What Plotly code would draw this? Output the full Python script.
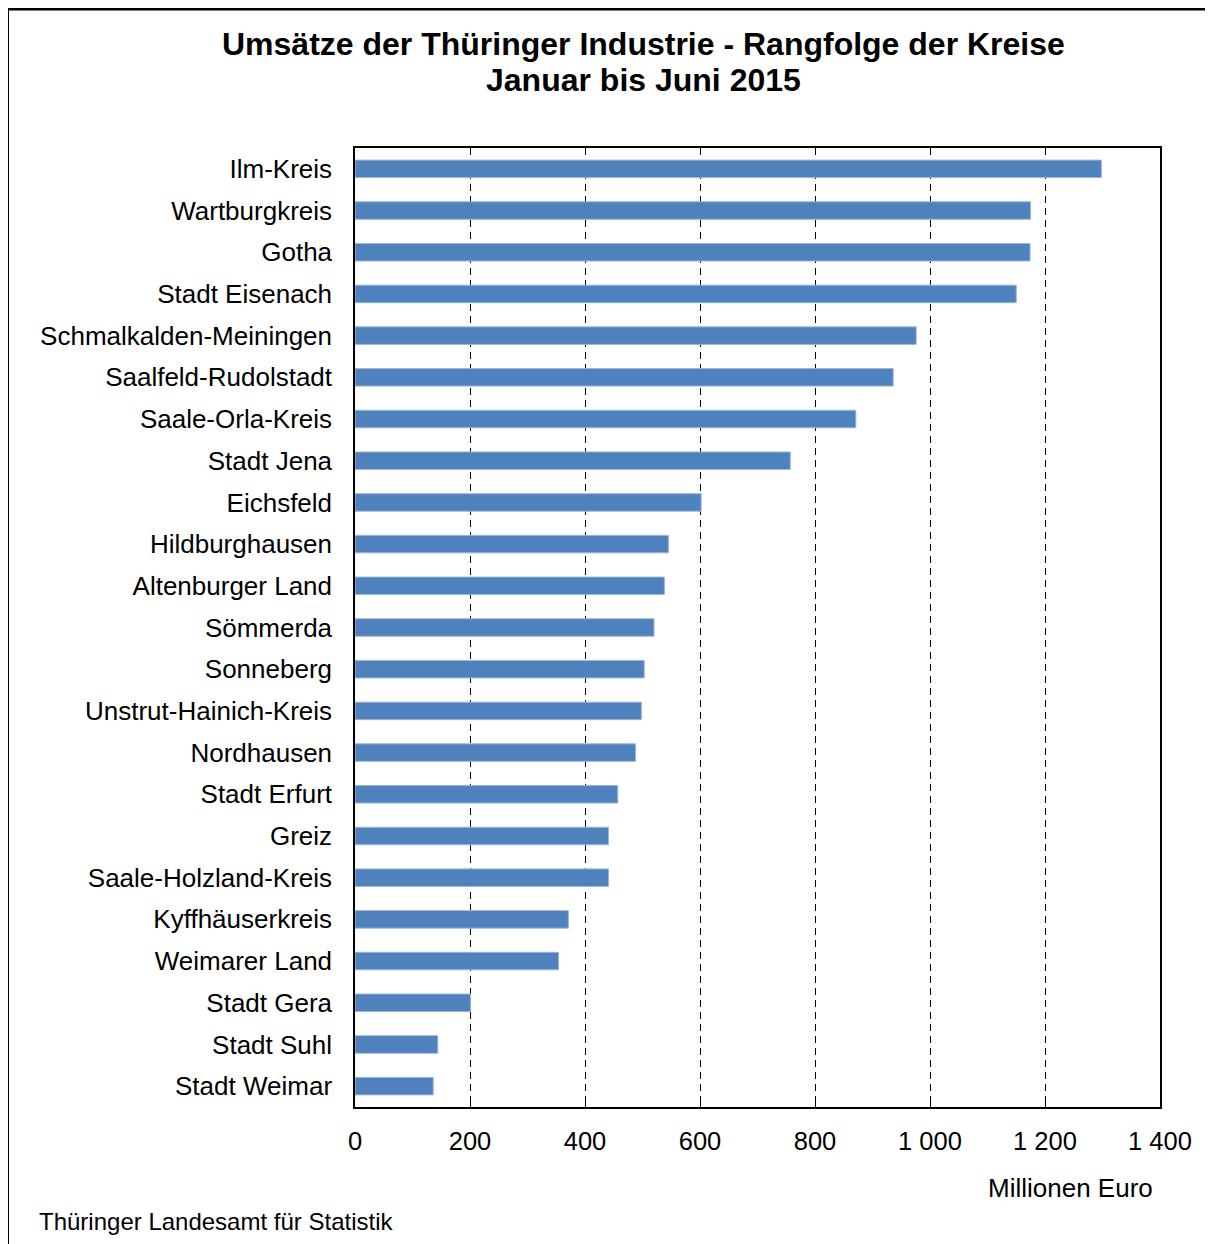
import plotly.graph_objects as go

kreise = ["Ilm-Kreis", "Wartburgkreis", "Gotha", "Stadt Eisenach", "Schmalkalden-Meiningen",
          "Saalfeld-Rudolstadt", "Saale-Orla-Kreis", "Stadt Jena", "Eichsfeld", "Hildburghausen",
          "Altenburger Land", "Sömmerda", "Sonneberg", "Unstrut-Hainich-Kreis", "Nordhausen",
          "Stadt Erfurt", "Greiz", "Saale-Holzland-Kreis", "Kyffhäuserkreis", "Weimarer Land",
          "Stadt Gera", "Stadt Suhl", "Stadt Weimar"]
umsatz = [1298, 1175, 1174, 1150, 976,
          936, 871, 757, 602, 545,
          538, 520, 503, 498, 488,
          457, 441, 441, 371, 354,
          201, 144, 136]
tick_vals = [0, 200, 400, 600, 800, 1000, 1200, 1400]
tick_text = ["0", "200", "400", "600", "800", "1 000", "1 200", "1 400"]

W, H = 1213, 1244
OFF = 8  # page body margin
L, T = 355 - OFF, 148 - OFF
R = W - (1160 - OFF)
B = H - (1107 - OFF)
pw, ph = W - L - R, H - T - B

FONT = "Liberation Sans, Arial, sans-serif"


def px(x):
    return (x - OFF - L) / pw


def py(y):
    return (H - B - (y - OFF)) / ph


fig = go.Figure(go.Bar(
    x=umsatz, y=kreise, orientation="h",
    marker=dict(color="#4F81BD", line=dict(color="#9DB5DA", width=1)),
))

fig.update_layout(
    width=W, height=H,
    margin=dict(l=L, r=R, t=T, b=B, autoexpand=False),
    paper_bgcolor="white", plot_bgcolor="white",
    bargap=0.58,
    showlegend=False,
    font=dict(family=FONT, size=26, color="black"),
)

fig.update_xaxes(
    range=[0, 1400], tickvals=tick_vals, ticktext=tick_text,
    showgrid=True, gridcolor="black", gridwidth=1, griddash="7px,5px",
    showline=True, linecolor="black", linewidth=1.5, mirror=True,
    ticks="inside", ticklen=6, tickcolor="black",
    tickfont=dict(size=25.5), ticklabelstandoff=11,
    zeroline=False, fixedrange=True,
)
fig.update_yaxes(
    autorange="reversed",
    showline=True, linecolor="black", linewidth=1.5, mirror=True,
    showgrid=False, ticks="", tickfont=dict(size=26),
    ticklabelstandoff=16,
)

fig.add_annotation(text="<b>Umsätze der Thüringer Industrie - Rangfolge der Kreise</b>",
                   xref="paper", yref="paper", x=px(643), y=py(44),
                   xanchor="center", yanchor="middle", showarrow=False,
                   font=dict(size=32))
fig.add_annotation(text="<b>Januar bis Juni 2015</b>",
                   xref="paper", yref="paper", x=px(643), y=py(80),
                   xanchor="center", yanchor="middle", showarrow=False,
                   font=dict(size=32))
fig.add_annotation(text="Millionen Euro", xref="paper", yref="paper",
                   x=px(1155), y=py(1188), xanchor="right", yanchor="middle",
                   showarrow=False, font=dict(size=26))
fig.add_annotation(text="Thüringer Landesamt für Statistik", xref="paper", yref="paper",
                   x=px(37), y=py(1221), xanchor="left", yanchor="middle",
                   showarrow=False, font=dict(size=24))

# outer frame: left and top edges
fig.add_shape(type="line", xref="paper", yref="paper",
              x0=px(8), x1=px(8), y0=py(1270), y1=py(9.2),
              line=dict(color="black", width=2), layer="below")
fig.add_shape(type="line", xref="paper", yref="paper",
              x0=px(7), x1=px(1230), y0=py(9.2), y1=py(9.2),
              line=dict(color="black", width=2.5), layer="below")

fig.write_html("out.html")
